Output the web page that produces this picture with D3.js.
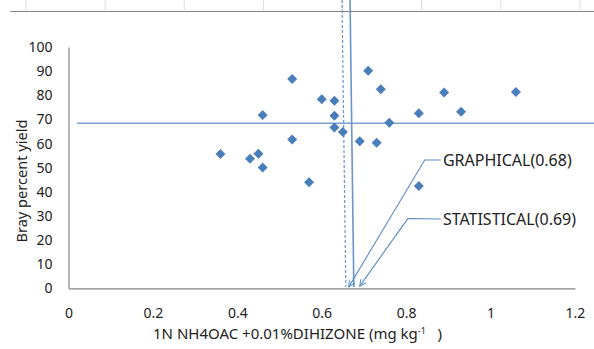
<!DOCTYPE html>
<html>
<head>
<meta charset="utf-8">
<script src="https://cdn.jsdelivr.net/npm/d3@7"></script>
<style>
  body { margin: 0; background: #fff; }
  text { font-family: "Noto Sans", "Open Sans", sans-serif; fill: #222; }
</style>
</head>
<body>
<div class="chart"></div>
<script>
const width = 594
const height = 349

// measured values (x: mg/kg, y: Bray percent yield)
const xValues = [0.53, 0.71, 0.74, 0.60, 0.63, 0.46, 0.63, 0.76, 0.63, 0.65, 0.53, 0.69,
    0.73, 0.36, 0.45, 0.43, 0.46, 0.57, 0.89, 1.06, 0.83, 0.93, 0.83]
const yValues = [86.7, 90.2, 82.5, 78.3, 77.7, 71.8, 71.5, 68.6, 66.6, 64.8, 61.7, 60.9,
    60.3, 55.7, 55.8, 53.7, 50.1, 43.9, 81.1, 81.4, 72.5, 73.2, 42.4]

const xTicks = [0, 0.2, 0.4, 0.6, 0.8, 1, 1.2]
const yTicks = [0, 10, 20, 30, 40, 50, 60, 70, 80, 90, 100]

// critical level lines
const hLevel = 68.4
const hExtent = [0.02, 1.245]
const vLines = [
    [[0.648, 119.5], [0.657, 0.5]],
    [[0.667, 119.5], [0.676, 0.5]]
]
const callouts = [
    {label: "GRAPHICAL(0.68)", text: [0.887, 53.2], elbow: [0.844, 53.2], tip: [0.664, 0.6]},
    {label: "STATISTICAL(0.69)", text: [0.887, 28.7], elbow: [0.804, 28.9], tip: [0.69, 0.9]}
]

// stray axis of the neighbouring figure at the top
const topTicks = [0, 1, 2, 3, 4, 5, 6, 7]

const svg = d3.select(".chart")
    .append("svg")
    .attr("width", width)
    .attr("height", height)

const x = d3.scaleLinear().domain([0, 1.2]).range([68.5, 575])
const y = d3.scaleLinear().domain([0, 100]).range([288.3, 47])

const topScale = d3.scaleLinear().domain([0, 7]).range([26, 580])

svg.append("line")
    .attr("x1", 10).attr("x2", width)
    .attr("y1", 11.5).attr("y2", 11.5)
    .attr("stroke", "#8a8a8a")
    .attr("stroke-width", 1.2)

svg.selectAll(".top-tick")
    .data(topTicks)
    .enter().append("line")
    .attr("class", "top-tick")
    .attr("x1", d => topScale(d)).attr("x2", d => topScale(d))
    .attr("y1", 0).attr("y2", 11)
    .attr("stroke", "#e0e0e0")

const defs = svg.append("defs")
defs.append("marker")
    .attr("id", "arrow")
    .attr("viewBox", "0 0 10 10")
    .attr("refX", 9).attr("refY", 5)
    .attr("markerWidth", 8).attr("markerHeight", 8)
    .attr("markerUnits", "userSpaceOnUse")
    .attr("orient", "auto")
    .append("path")
    .attr("d", "M1,1 L9,5 L1,9")
    .attr("fill", "none")
    .attr("stroke", "#5b8bc8")
    .attr("stroke-width", 1.2)

// axes
svg.append("g")
    .attr("transform", `translate(0, ${y(0)})`)
    .call(d3.axisBottom(x).tickValues(xTicks).tickSize(0).tickPadding(20).tickFormat(d3.format("")))
svg.append("g")
    .attr("transform", `translate(${x(0)}, 0)`)
    .call(d3.axisLeft(y).tickValues(yTicks).tickSize(0).tickPadding(16))

svg.selectAll(".domain").attr("stroke", "#868686").attr("stroke-width", 1.2)
svg.selectAll(".tick text")
    .style("font-family", "'Noto Sans', sans-serif")
    .style("font-size", "14px")
    .attr("fill", "#222")

// horizontal level line
svg.append("line")
    .attr("x1", x(hExtent[0])).attr("x2", x(hExtent[1]))
    .attr("y1", y(hLevel)).attr("y2", y(hLevel))
    .attr("stroke", "#7a9fd0")
    .attr("stroke-width", 1.6)

// vertical level lines
svg.selectAll(".vline")
    .data(vLines)
    .enter().append("line")
    .attr("class", "vline")
    .attr("x1", d => x(d[0][0])).attr("y1", d => y(d[0][1]))
    .attr("x2", d => x(d[1][0])).attr("y2", d => y(d[1][1]))
    .attr("stroke", "#6b95cc")
    .attr("stroke-width", (d, i) => i === 0 ? 1.2 : 1.6)
    .attr("stroke-dasharray", (d, i) => i === 0 ? "3,2" : null)

// points
const points = xValues.map((v, i) => ({x: v, y: yValues[i]}))
svg.selectAll(".pt")
    .data(points)
    .enter().append("path")
    .attr("class", "pt")
    .attr("d", d3.symbol(d3.symbolSquare, 50))
    .attr("transform", d => `translate(${x(d.x)}, ${y(d.y)}) rotate(45)`)
    .attr("fill", "#4a7ebb")

// callouts
const line = d3.line().x(d => x(d[0])).y(d => y(d[1]))
svg.selectAll(".leader")
    .data(callouts)
    .enter().append("path")
    .attr("class", "leader")
    .attr("d", d => line([[d.text[0] - 0.005, d.text[1]], d.elbow, d.tip]))
    .attr("fill", "none")
    .attr("stroke", "#5b8bc8")
    .attr("stroke-width", 1.1)
    .attr("marker-end", "url(#arrow)")

svg.selectAll(".callout")
    .data(callouts)
    .enter().append("text")
    .attr("class", "callout")
    .attr("x", d => x(d.text[0]))
    .attr("y", d => y(d.text[1]))
    .attr("dy", "0.35em")
    .style("font-size", "16px")
    .text(d => d.label)

// axis titles
svg.append("text")
    .attr("transform", `translate(27, 181) rotate(-90)`)
    .attr("text-anchor", "middle")
    .style("font-size", "14.6px")
    .text("Bray percent yield")

const xt = svg.append("text")
    .attr("x", 153)
    .attr("y", 339)
    .style("font-size", "15px")
xt.append("tspan").text("1N NH4OAC +0.01%DIHIZONE (mg kg")
xt.append("tspan").attr("dy", -5).style("font-size", "9px").text("-1")
xt.append("tspan").attr("dy", 5).text("\u00a0\u00a0\u00a0)")
</script>
</body>
</html>
